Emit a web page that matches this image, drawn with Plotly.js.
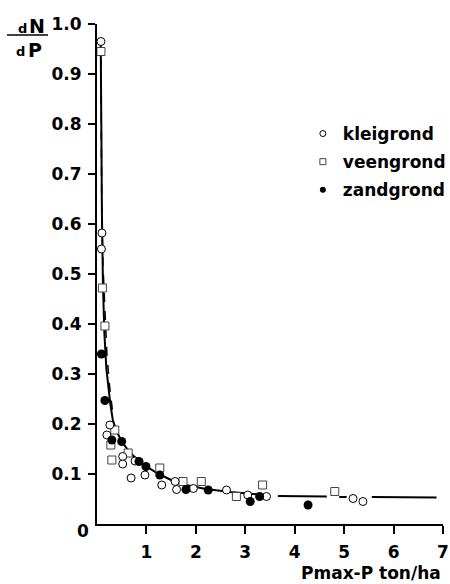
<!DOCTYPE html>
<html><head><meta charset="utf-8">
<script src="https://cdn.plot.ly/plotly-3.0.1.min.js"></script>
<style>html,body{margin:0;padding:0;background:#fff}</style>
</head><body><div id="chart" style="width:450px;height:584px"></div>
<script>
// kleigrond (open circles)
const kleiX = [0.08, 0.10, 0.09, 0.26, 0.20, 0.52, 0.52, 0.69, 0.77, 0.97, 1.31, 1.58, 1.61, 1.95, 2.62, 3.05, 3.43, 5.18, 5.38];
const kleiY = [0.965, 0.582, 0.55, 0.198, 0.178, 0.135, 0.12, 0.092, 0.126, 0.098, 0.078, 0.085, 0.069, 0.071, 0.068, 0.058, 0.055, 0.051, 0.045];
// veengrond (open squares)
const veenX = [0.08, 0.11, 0.16, 0.36, 0.28, 0.63, 0.30, 1.27, 1.74, 2.11, 2.82, 3.35, 4.81];
const veenY = [0.945, 0.472, 0.396, 0.188, 0.158, 0.142, 0.128, 0.112, 0.085, 0.085, 0.055, 0.078, 0.065];
// zandgrond (filled circles)
const zandX = [0.09, 0.16, 0.30, 0.50, 0.85, 0.99, 1.27, 1.80, 2.25, 3.10, 3.29, 4.27];
const zandY = [0.34, 0.247, 0.168, 0.165, 0.125, 0.115, 0.098, 0.069, 0.068, 0.045, 0.055, 0.038];
// solid fitted curve (null = gap)
const fitX = [0.075, 0.085, 0.10, 0.12, 0.15, 0.19, 0.23, 0.27, 0.32, 0.40, 0.50, 0.65, 0.80, 1.00, 1.25, 1.50, 1.80, 2.20, 2.70, 3.30, null, 3.66, 4.65, null, 4.90, 5.05, null, 5.56, 6.87];
const fitY = [0.97, 0.80, 0.62, 0.48, 0.38, 0.31, 0.27, 0.24, 0.208, 0.185, 0.165, 0.145, 0.13, 0.115, 0.10, 0.088, 0.078, 0.070, 0.064, 0.059, null, 0.056, 0.055, null, 0.054, 0.054, null, 0.054, 0.053];
// dashed curve near the axis
const dashX = [0.08, 0.09, 0.095, 0.12, 0.16, 0.20, 0.25, 0.32];
const dashY = [0.93, 0.80, 0.64, 0.52, 0.41, 0.34, 0.28, 0.22];
const legendNames = ["kleigrond", "veengrond", "zandgrond"];
const xTicks = [1, 2, 3, 4, 5, 6, 7];
const yTicks = [0.1, 0.2, 0.3, 0.4, 0.5, 0.6, 0.7, 0.8, 0.9, 1.0];
const yTickText = ["0.1", "0.2", "0.3", "0.4", "0.5", "0.6", "0.7", "0.8", "0.9", "1.0"];

const FONT = "DejaVu Sans, Liberation Sans, Arial, sans-serif";
const TF = {family: FONT, size: 17, color: "#000", weight: "bold"};
const openC = {symbol: "circle", size: 8, color: "#fff", line: {color: "#000", width: 1}};
const openS = {symbol: "square", size: 8, color: "#fff", line: {color: "#444", width: 1}};
const fillC = {symbol: "circle", size: 9, color: "#000", line: {color: "#000", width: 0}};

const traces = [
  {x: fitX, y: fitY, mode: "lines", line: {color: "#000", width: 2}, showlegend: false, connectgaps: false},
  {x: dashX, y: dashY, mode: "lines", line: {color: "#000", width: 1.5, dash: "dash"}, showlegend: false},
  {x: veenX, y: veenY, mode: "markers", marker: openS, showlegend: false},
  {x: kleiX, y: kleiY, mode: "markers", marker: openC, showlegend: false},
  {x: zandX, y: zandY, mode: "markers", marker: fillC, showlegend: false},
  {x: [null], y: [null], mode: "markers", name: legendNames[0], legendgroup: "a", marker: Object.assign({}, openC, {size: 6})},
  {x: [null], y: [null], mode: "markers", name: legendNames[1], legendgroup: "b", marker: Object.assign({}, openS, {size: 6})},
  {x: [null], y: [null], mode: "markers", name: legendNames[2], legendgroup: "c", marker: Object.assign({}, fillC, {size: 6})}
];

function ann(px, py, text, size) {
  return {xref: "paper", yref: "paper", x: (px - 97) / 346, y: (524 - py) / 500, xanchor: "center", yanchor: "middle",
          text: text, showarrow: false, font: {family: FONT, size: size, color: "#000", weight: "bold"}};
}

const layout = {
  width: 450, height: 584,
  margin: {l: 97, r: 7, t: 24, b: 60, autoexpand: false},
  paper_bgcolor: "#fff", plot_bgcolor: "#fff",
  font: TF,
  showlegend: true,
  legend: {x: 0.595, y: 0.816, xanchor: "left", yanchor: "top", traceorder: "grouped", tracegroupgap: 3,
           itemwidth: 30, bgcolor: "rgba(0,0,0,0)", font: TF},
  xaxis: {range: [0, 7], tickvals: xTicks, ticks: "outside", ticklen: 8, tickwidth: 2, tickcolor: "#000",
          ticklabelstandoff: 4, automargin: false,
          showline: true, linewidth: 2, linecolor: "#000", showgrid: false, zeroline: false, tickfont: TF},
  yaxis: {range: [0, 1], tickvals: yTicks, ticktext: yTickText, ticks: "outside", ticklen: 7, tickwidth: 2, tickcolor: "#000",
          ticklabelstandoff: 3, automargin: false,
          showline: true, linewidth: 2, linecolor: "#000", showgrid: false, zeroline: false, tickfont: TF},
  annotations: [
    ann(83, 531, "0", 17),
    Object.assign(ann(443, 573, "Pmax-P ton/ha", 17), {xanchor: "right"}),
    ann(22.5, 28, "d", 13),
    ann(37.5, 26, "N", 19),
    ann(20, 51, "d", 13),
    ann(35, 50, "P", 19)
  ],
  shapes: [
    {type: "line", xref: "paper", yref: "paper", x0: (7 - 97) / 346, x1: (48 - 97) / 346, y0: (524 - 35) / 500, y1: (524 - 35) / 500,
     line: {color: "#000", width: 1.5}}
  ]
};
Plotly.newPlot("chart", traces, layout, {displayModeBar: false, staticPlot: true});
</script></body></html>
